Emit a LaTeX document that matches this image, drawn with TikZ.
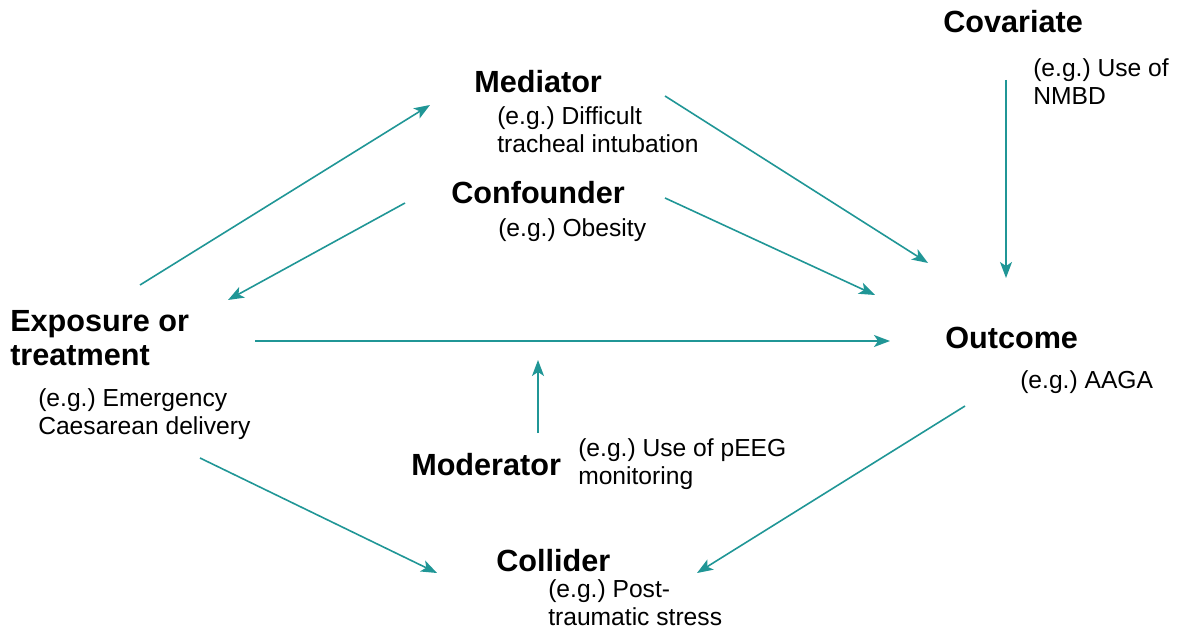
\documentclass[tikz,border=0pt]{standalone}
\usepackage{fontspec}
\setmainfont{Liberation Sans}
\frenchspacing
\usetikzlibrary{arrows.meta}
\definecolor{dagteal}{RGB}{32,150,150}

\begin{document}
\begin{tikzpicture}[x=0.0264cm,y=-0.0264cm,
    title/.style={anchor=west,inner sep=0pt,align=left,font=\fontsize{23}{25}\selectfont\bfseries},
    example/.style={anchor=west,inner sep=0pt,align=left,font=\fontsize{18.5}{21}\selectfont},
    arr/.style={dagteal,line width=1.2pt,-{Stealth[length=12pt,width=9pt,inset=3pt]}}]
      \useasboundingbox (0,0) rectangle (1182,631);

      % variables
      \node[title] (cov) at (943,22) {Covariate};
      \node[example] (covex) at (1033,82) {(e.g.) Use of\\NMBD};
      \node[title] (med) at (474,82) {Mediator};
      \node[example] (medex) at (497,130) {(e.g.) Difficult\\tracheal intubation};
      \node[title] (conf) at (451,193) {Confounder};
      \node[example] (confex) at (498,230) {(e.g.) Obesity};
      \node[title] (expo) at (10,338) {Exposure or\\treatment};
      \node[example] (expoex) at (38,414) {(e.g.) Emergency\\Caesarean delivery};
      \node[title] (out) at (945,338) {Outcome};
      \node[example] (outex) at (1020,382) {(e.g.) AAGA};
      \node[title] (mod) at (411,465) {Moderator};
      \node[example] (modex) at (578,464) {(e.g.) Use of pEEG\\monitoring};
      \node[title] (col) at (496,561) {Collider};
      \node[example] (colex) at (548,603) {(e.g.) Post-\\traumatic stress};
      \coordinate (effect) at (538,360);

      % paths
      \draw[arr] ([shift={(130,-53)}]expo.west) -- ([shift={(-44,23)}]med.west);
      \draw[arr] ([shift={(-46,10)}]conf.west) -- ([shift={(218,-38)}]expo.west);
      \draw[arr] ([shift={(191,14)}]med.west) -- ([shift={(-17,-75)}]out.west);
      \draw[arr] ([shift={(214,5)}]conf.west) -- ([shift={(-70,-43)}]out.west);
      \draw[arr] ([shift={(63,58)}]cov.west) -- ([shift={(61,-60)}]out.west);
      \draw[arr] ([shift={(245,3)}]expo.west) -- ([shift={(-55,3)}]out.west);
      \draw[arr] ([shift={(127,-32)}]mod.west) -- (effect);
      \draw[arr] ([shift={(162,44)}]expoex.west) -- ([shift={(-59,12)}]col.west);
      \draw[arr] ([shift={(-55,24)}]outex.west) -- ([shift={(201,12)}]col.west);
\end{tikzpicture}
\end{document}
